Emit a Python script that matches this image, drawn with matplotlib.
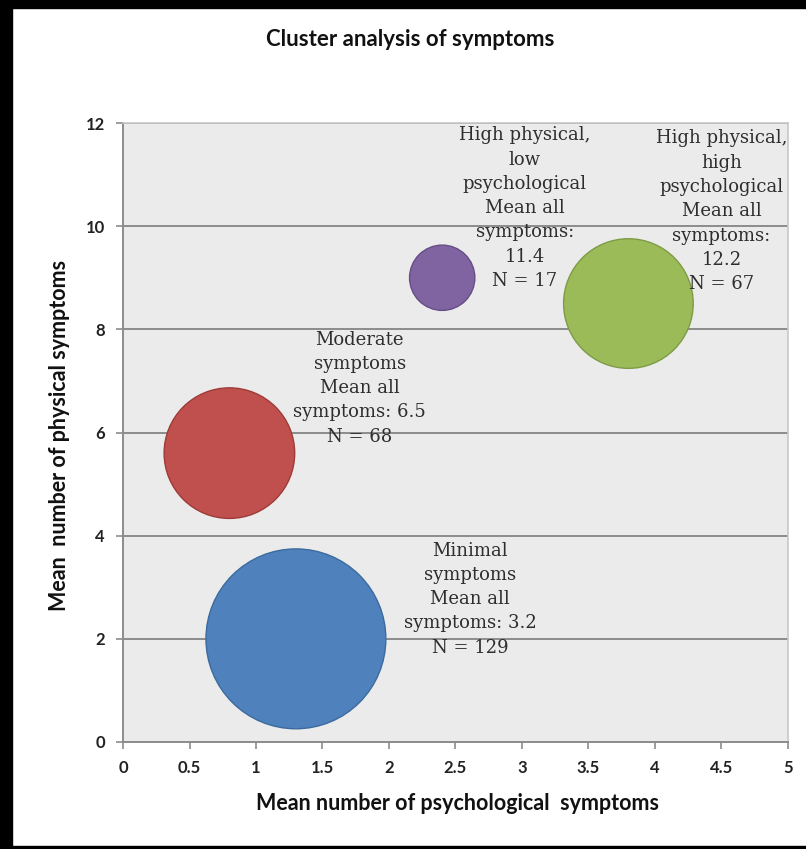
import matplotlib
matplotlib.use("Agg")
import matplotlib.pyplot as plt
from matplotlib.patches import Rectangle

# cluster data
psych_mean = [1.3, 0.8, 2.4, 3.8]
phys_mean = [2.0, 5.6, 9.0, 8.5]
cluster_n = [129, 68, 17, 67]
cluster_colors = ["#4F81BD", "#C0504D", "#8064A2", "#9BBB59"]
edge_colors = ["#3A6A9E", "#9E3B38", "#664E85", "#7E9B45"]

labels = [
    "Minimal\nsymptoms\nMean all\nsymptoms: 3.2\nN = 129",
    "Moderate\nsymptoms\nMean all\nsymptoms: 6.5\nN = 68",
    "High physical,\nlow\npsychological\nMean all\nsymptoms:\n11.4\nN = 17",
    "High physical,\nhigh\npsychological\nMean all\nsymptoms:\n12.2\nN = 67",
]
label_x = [2.61, 1.78, 3.02, 4.50]
label_y = [2.77, 6.86, 10.35, 10.29]

x_ticks = [0, 0.5, 1, 1.5, 2, 2.5, 3, 3.5, 4, 4.5, 5]
x_tick_labels = ["0", "0.5", "1", "1.5", "2", "2.5", "3", "3.5", "4", "4.5", "5"]
y_ticks = [0, 2, 4, 6, 8, 10, 12]

size_scale = 130.0


def main():
    fig = plt.figure(figsize=(8.06, 8.49), dpi=100)
    fig.patch.set_facecolor("white")

    # black frame of the screenshot
    fig.add_artist(Rectangle((0, 0), 12 / 806, 1, transform=fig.transFigure,
                             color="black", zorder=0))
    fig.add_artist(Rectangle((0, 1 - 8 / 849), 1, 8 / 849, transform=fig.transFigure,
                             color="black", zorder=0))
    fig.add_artist(Rectangle((0, 0), 1, 3 / 849, transform=fig.transFigure,
                             color="black", zorder=0))

    ax = fig.add_axes([123 / 806, 1 - 742 / 849, 665 / 806, 619 / 849])
    ax.set_facecolor("#EBEBEB")

    ax.set_xlim(0, 5)
    ax.set_ylim(0, 12)
    ax.set_xticks(x_ticks)
    ax.set_xticklabels(x_tick_labels)
    ax.set_yticks(y_ticks)

    ax.yaxis.grid(True, color="#8C8C8C", linewidth=1.4)
    ax.set_axisbelow(True)

    for side in ["top", "right"]:
        ax.spines[side].set_color("#C8C8C8")
        ax.spines[side].set_linewidth(1.2)
    for side in ["left", "bottom"]:
        ax.spines[side].set_color("#8C8C8C")
        ax.spines[side].set_linewidth(1.4)

    ax.tick_params(axis="both", length=5, width=1.2, color="#8C8C8C",
                   labelsize=12, labelcolor="#222222")
    for lbl in ax.get_xticklabels() + ax.get_yticklabels():
        lbl.set_fontfamily("Lato")
        lbl.set_fontweight("bold")
    ax.tick_params(axis="x", pad=8)
    ax.tick_params(axis="y", pad=8)

    sizes = [n * size_scale for n in cluster_n]
    ax.scatter(psych_mean, phys_mean, s=sizes, c=cluster_colors,
               edgecolors=edge_colors, linewidths=1.0, zorder=3, clip_on=False)

    for txt, lx, ly in zip(labels, label_x, label_y):
        ax.text(lx, ly, txt, ha="center", va="center", fontsize=13,
                family="DejaVu Serif", color="#2E2E2E", linespacing=1.45,
                zorder=4)

    fig.text(410 / 806, 1 - 40 / 849, "Cluster analysis of symptoms",
             ha="center", va="center", fontsize=16, fontweight="bold",
             family="Lato", color="#111111")
    fig.text(457 / 806, 1 - 803 / 849, "Mean number of psychological  symptoms",
             ha="center", va="center", fontsize=15.5, fontweight="bold",
             family="Lato", color="#111111")
    fig.text(60 / 806, 1 - 435 / 849, "Mean  number of physical symptoms",
             ha="center", va="center", rotation=90, fontsize=15.5,
             fontweight="bold", family="Lato", color="#111111")

    fig.savefig("out.png", dpi=100)
    plt.close(fig)


if __name__ == "__main__":
    main()
